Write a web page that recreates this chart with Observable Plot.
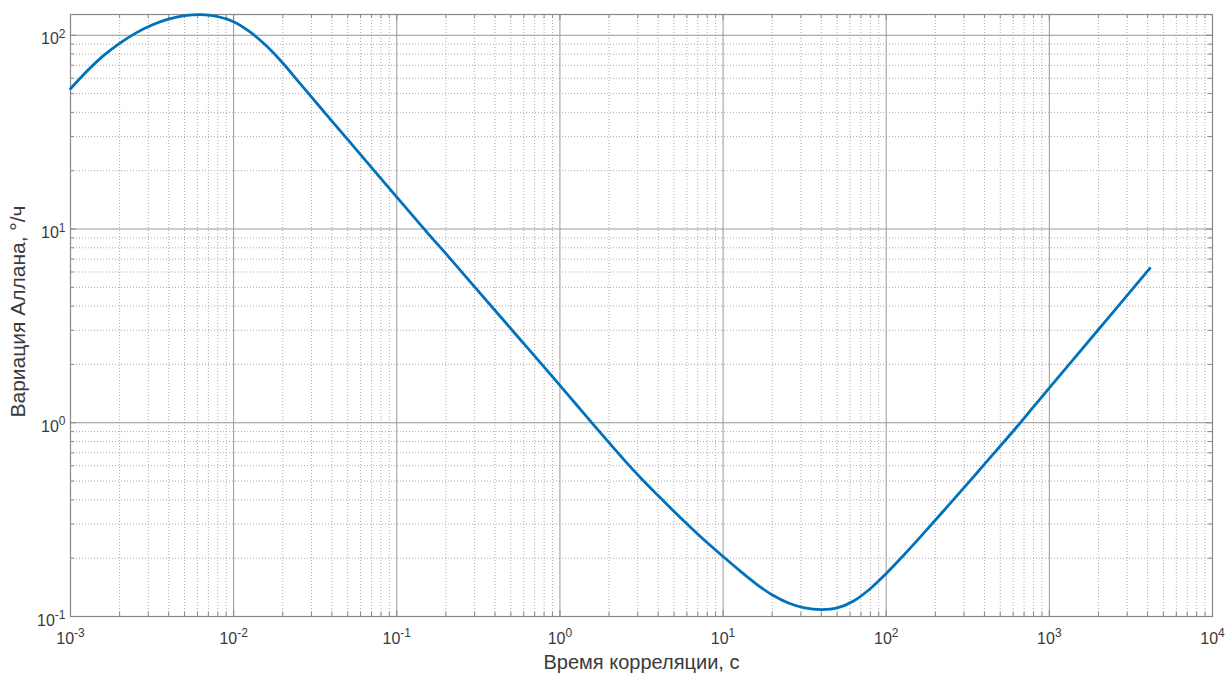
<!DOCTYPE html>
<html><head><meta charset="utf-8">
<script src="https://cdn.jsdelivr.net/npm/d3@7"></script>
<script src="https://cdn.jsdelivr.net/npm/@observablehq/plot@0.6"></script>
<style>body{margin:0;background:#fff;}</style>
</head><body><div id="chart"></div>
<script>
// Correlation time (s) and Allan deviation (°/h)
const tau  = [0.001, 0.00126, 0.00158, 0.002, 0.00251, 0.00316, 0.00398, 0.00501, 0.00631, 0.00794,
              0.01, 0.0126, 0.0158, 0.02, 0.0251, 0.0316, 0.0398, 0.0501, 0.1, 0.158, 0.2, 0.398, 0.631,
              1, 1.259, 1.585, 2.512, 3.162, 3.981, 5.012, 6.31, 7.943, 10, 12.59,
              15.85, 19.95, 25.12, 31.62, 39.81, 50.12, 63.1, 79.43, 100, 125.9,
              158.5, 316.2, 398, 631, 794, 1000, 1995, 2512, 4130];
const adev = [53.0, 65.2, 78.0, 90.8, 102.6, 113.0, 121.1, 126.2, 127.9, 125.0,
              117.5, 104.0, 88.5, 71.9, 57.3, 45.6, 36.3, 28.9, 14.6, 9.33, 7.46, 3.82, 2.44,
              1.56, 1.242, 0.989, 0.634, 0.514, 0.422, 0.348, 0.289, 0.2415, 0.204, 0.173,
              0.148, 0.1294, 0.1175, 0.1109, 0.1086, 0.1107, 0.1202, 0.1387, 0.1667, 0.2042,
              0.2523, 0.4864, 0.608, 0.9506, 1.2, 1.514, 3.02, 3.80, 6.27];

const xMajor = [1e-3, 1e-2, 1e-1, 1e0, 1e1, 1e2, 1e3, 1e4];
const xTickLabels = ["10^-3", "10^-2", "10^-1", "10^0", "10^1", "10^2", "10^3", "10^4"];
const yMajor = [1e-1, 1e0, 1e1, 1e2];
const yTickLabels = ["10^-1", "10^0", "10^1", "10^2"];
const xDomain = [1e-3, 1e4];
const yDomain = [0.1, 128];

const xTitle = "Время корреляции, с";
const yTitle = "Вариация Аллана, °/ч";

const minorOf = (majors, lo, hi) => {
  const out = [];
  for (const d of majors) for (let k = 2; k <= 9; k++) { const v = d * k; if (v > lo && v < hi) out.push(v); }
  return out;
};
const xMinor = minorOf(xMajor, xDomain[0], xDomain[1]);
const yMinor = minorOf(yMajor, yDomain[0], yDomain[1]);

const data = tau.map((t, i) => ({tau: t, adev: adev[i]}));

const W = 1231, H = 673, mL = 70, mR = 19, mT = 14, mB = 57;
const innerW = W - mL - mR, innerH = H - mT - mB;
const frameCol = "#888", majorCol = "#999", minorCol = "#aaa", textCol = "#3a3a3a";

const xLab = new Map(xMajor.map((v, i) => [v, xTickLabels[i]]));
const yLab = new Map(yMajor.map((v, i) => [v, yTickLabels[i]]));

const chart = Plot.plot({
  width: W, height: H,
  marginLeft: mL, marginRight: mR, marginTop: mT, marginBottom: mB,
  style: {fontFamily: "'Liberation Sans', Arial, sans-serif", fontSize: "16px", color: textCol, background: "#fff"},
  x: {type: "log", domain: xDomain},
  y: {type: "log", domain: yDomain},
  marks: [
    // minor grid (dotted)
    Plot.ruleX(xMinor, {x: d => d, stroke: minorCol, strokeDasharray: "1,2", strokeWidth: 1}),
    Plot.ruleY(yMinor, {y: d => d, stroke: minorCol, strokeDasharray: "1,2", strokeWidth: 1}),
    // major grid (solid)
    Plot.ruleX(xMajor.slice(1, -1), {x: d => d, stroke: majorCol, strokeWidth: 1}),
    Plot.ruleY(yMajor.slice(1), {y: d => d, stroke: majorCol, strokeWidth: 1}),
    // inward ticks, bottom & top
    Plot.tickX(xMinor, {x: d => d, stroke: frameCol, insetTop: innerH - 4}),
    Plot.tickX(xMinor, {x: d => d, stroke: frameCol, insetBottom: innerH - 4}),
    Plot.tickX(xMajor, {x: d => d, stroke: frameCol, insetTop: innerH - 6}),
    Plot.tickX(xMajor, {x: d => d, stroke: frameCol, insetBottom: innerH - 6}),
    // inward ticks, left & right
    Plot.tickY(yMinor, {y: d => d, stroke: frameCol, insetRight: innerW - 4}),
    Plot.tickY(yMinor, {y: d => d, stroke: frameCol, insetLeft: innerW - 4}),
    Plot.tickY(yMajor, {y: d => d, stroke: frameCol, insetRight: innerW - 6}),
    Plot.tickY(yMajor, {y: d => d, stroke: frameCol, insetLeft: innerW - 6}),
    Plot.frame({stroke: frameCol, strokeWidth: 1.2}),
    // curve
    Plot.line(data, {x: "tau", y: "adev", stroke: "#0072BD", strokeWidth: 2.8, curve: "catmull-rom"}),
    // tick labels
    Plot.axisX({ticks: xMajor, tickSize: 0, tickPadding: 16, tickFormat: d => xLab.get(d), label: null, fill: textCol, fontSize: 16}),
    Plot.axisY({ticks: yMajor, tickSize: 0, tickPadding: 5, dy: 4, tickFormat: d => yLab.get(d), label: null, fill: textCol, fontSize: 16}),
    // axis titles
    Plot.text([xTitle], {text: d => d, frameAnchor: "bottom", dy: 46, lineAnchor: "middle", textAnchor: "middle", fontSize: 20, fill: textCol}),
    Plot.text([yTitle], {text: d => d, frameAnchor: "left", dx: -52, dy: -4, rotate: -90, lineAnchor: "middle", textAnchor: "middle", fontSize: 21, fill: textCol})
  ]
});

// turn "10^e" into 10 with a superscript exponent
d3.select(chart).selectAll('g[aria-label="x-axis tick label"] text, g[aria-label="y-axis tick label"] text').each(function() {
  const t = d3.select(this);
  const s = t.text();
  const m = s.match(/^(\d+)\^(.+)$/);
  if (!m) return;
  t.text(null);
  t.append("tspan").text(m[1]);
  t.append("tspan").attr("dy", "-0.55em").attr("font-size", "0.75em").text(m[2]);
});

document.getElementById("chart").appendChild(chart);
</script>
</body></html>
